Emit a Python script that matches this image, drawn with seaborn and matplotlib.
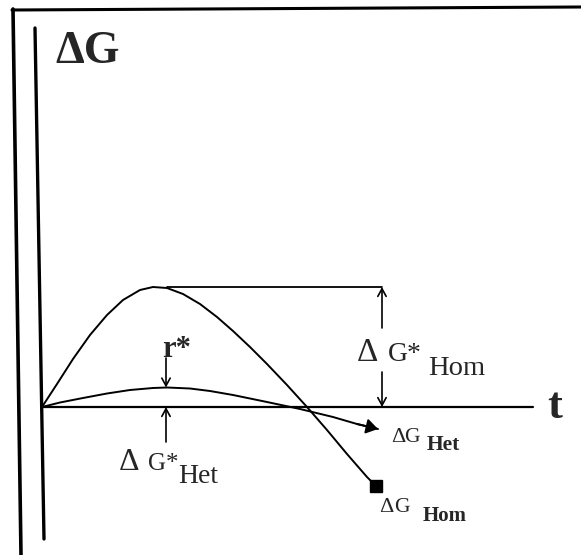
import matplotlib
matplotlib.use("Agg")
import matplotlib.pyplot as plt
from matplotlib.lines import Line2D
import seaborn as sns
import pandas as pd

# ---- data (t, G) in schematic units; origin at the crossing of the axes ----
t_hom = [0, 15, 31, 48, 65, 81, 98, 111, 125, 141, 158, 175, 191, 208, 225, 245, 265, 285, 305, 325, 334]
g_hom = [0, 23, 48, 72, 92, 107, 117, 120, 119, 113, 103, 90, 76, 60, 43, 22, 0, -23, -47, -70, -79]
t_het = [0, 18, 41, 65, 88, 111, 125, 148, 168, 191, 225, 258, 291, 315, 336]
g_het = [0, 4.5, 9, 13.5, 17, 19, 19.5, 18.5, 16, 12, 5, -2, -10, -17, -22]
curve_names = ["Hom", "Het"]

t_axis_end = 491
hom_marker_t = 340          # position of the ΔG*_Hom double arrow
r_star_t = 124              # position of the r* marker

sns.set_style("white")
plt.rcParams["font.family"] = ["Liberation Serif", "DejaVu Serif"]

fig = plt.figure(figsize=(5.81, 5.55), dpi=100)
ax = fig.add_axes([0, 0, 1, 1])
ax.set_xlim(-42, 539)
ax.set_ylim(-148, 407)
ax.axis("off")

df = pd.concat([
    pd.DataFrame({"t": t_hom, "G": g_hom, "curve": curve_names[0]}),
    pd.DataFrame({"t": t_het, "G": g_het, "curve": curve_names[1]}),
])
sns.lineplot(data=df, x="t", y="G", hue="curve", units="curve", estimator=None,
             sort=False, palette=["black", "black"], linewidth=1.4, legend=False, ax=ax)

# end marks
ax.plot([t_hom[-1]], [g_hom[-1]], marker="s", color="black", markersize=8)
ax.annotate("", xy=(t_het[-1], g_het[-1]), xytext=(t_het[-2], g_het[-2]),
            arrowprops=dict(arrowstyle="-|>,head_length=0.7,head_width=0.45",
                            color="black", lw=1.4, shrinkA=0, shrinkB=0))

# t axis
ax.plot([0, t_axis_end], [0, 0], color="black", lw=1.6)

# frame and ΔG axis (figure pixel coords)
W, H = 581, 555
def fline(x0, y0, x1, y1, lw):
    fig.add_artist(Line2D([x0 / W, x1 / W], [1 - y0 / H, 1 - y1 / H],
                          color="black", lw=lw, transform=fig.transFigure))
fline(13, 9, 21, 555, 2.6)
fline(12, 10, 581, 7, 2.2)
fline(35, 28, 44, 539, 2.4)

# ΔG*_Hom construction
hom_peak = max(g_hom)
peak_t = t_hom[g_hom.index(hom_peak)]
ax.plot([peak_t + 14, hom_marker_t], [hom_peak, hom_peak], color="black", lw=1.3)
arrow_kw = dict(arrowstyle="->,head_length=0.55,head_width=0.3", color="black",
                lw=1.2, shrinkA=0, shrinkB=0)
ax.annotate("", xy=(hom_marker_t, hom_peak), xytext=(hom_marker_t, 79), arrowprops=arrow_kw)
ax.annotate("", xy=(hom_marker_t, 0), xytext=(hom_marker_t, 35), arrowprops=arrow_kw)

# r* / ΔG*_Het construction
het_peak = max(g_het)
ax.annotate("", xy=(r_star_t, het_peak), xytext=(r_star_t, 49), arrowprops=arrow_kw)
ax.annotate("", xy=(r_star_t, 0), xytext=(r_star_t, -35), arrowprops=arrow_kw)

# labels
tk = dict(va="baseline", ha="left")
ax.text(13, 344, "ΔG", fontsize=33, fontweight="bold", **tk)
ax.text(505, -11, "t", fontsize=32, fontweight="bold", **tk)
ax.text(120, 50, "r*", fontsize=22, fontweight="bold", **tk)
ax.text(315, 46, "Δ", fontsize=24, **tk)
ax.text(346, 46, "G*", fontsize=20, **tk)
ax.text(386, 32, "Hom", fontsize=20.5, **tk)
ax.text(77, -63, "Δ", fontsize=23, **tk)
ax.text(106, -63, "G*", fontsize=18, **tk)
ax.text(136, -76, "Het", fontsize=20, **tk)
ax.text(349, -35, "Δ", fontsize=16, **tk)
ax.text(362, -35, "G", fontsize=15.5, **tk)
ax.text(385, -43, "Het", fontsize=15.5, fontweight="bold", **tk)
ax.text(337, -105, "Δ", fontsize=16, **tk)
ax.text(352, -105, "G", fontsize=15.5, **tk)
ax.text(381, -114, "Hom", fontsize=15, fontweight="bold", **tk)

fig.savefig("out.png", dpi=100, facecolor="white")
